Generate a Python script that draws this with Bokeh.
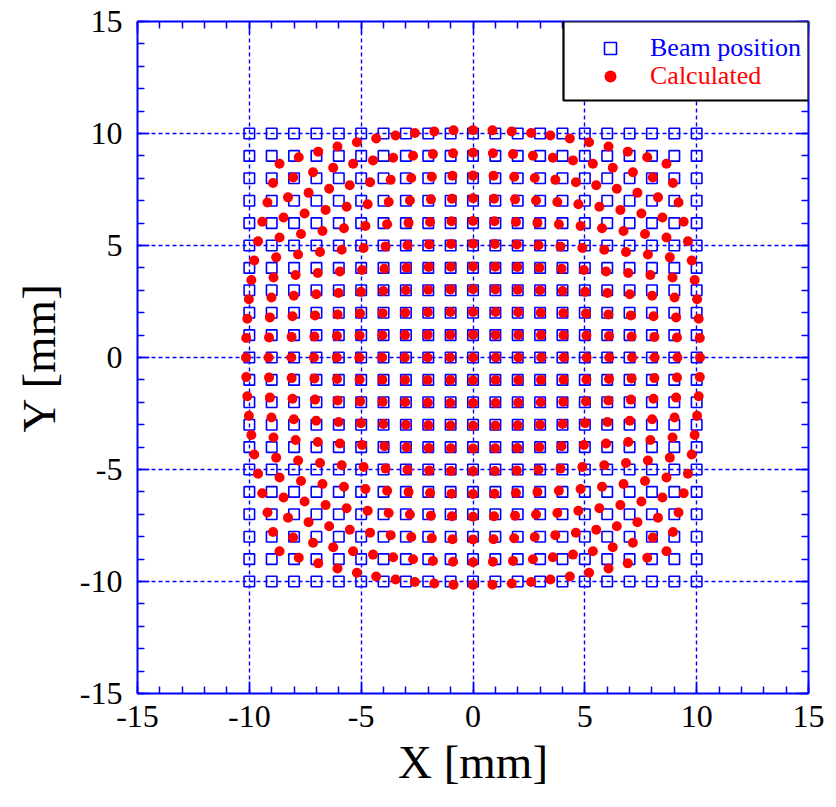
from bokeh.plotting import figure
from bokeh.models import (Range1d, SingleIntervalTicker, LinearAxis, Legend,
                          LegendItem, BoxAnnotation, CustomJSTickFormatter)
from bokeh.embed import file_html
from bokeh.resources import INLINE

# ---------------- data ----------------
# nominal beam positions (grid, mm)
BEAM_POS = [-10, -9, -8, -7, -6, -5, -4, -3, -2, -1, 0,
            1, 2, 3, 4, 5, 6, 7, 8, 9, 10]

# calculated X [mm]; one row per nominal Y (-10 ... 10), columns = nominal X (-10 ... 10)
CALC_X = [
    [-8.65, -7.79, -6.92, -6.06, -5.19, -4.33, -3.46, -2.60, -1.73, -0.87, 0, 0.87, 1.73, 2.60, 3.46, 4.33, 5.19, 6.06, 6.92, 7.79, 8.65],
    [-8.94, -8.04, -7.15, -6.25, -5.36, -4.47, -3.57, -2.68, -1.79, -0.89, 0, 0.89, 1.79, 2.68, 3.57, 4.47, 5.36, 6.25, 7.15, 8.04, 8.94],
    [-9.19, -8.27, -7.35, -6.43, -5.51, -4.60, -3.68, -2.76, -1.84, -0.92, 0, 0.92, 1.84, 2.76, 3.68, 4.60, 5.51, 6.43, 7.35, 8.27, 9.19],
    [-9.42, -8.47, -7.53, -6.59, -5.65, -4.71, -3.77, -2.82, -1.88, -0.94, 0, 0.94, 1.88, 2.82, 3.77, 4.71, 5.65, 6.59, 7.53, 8.47, 9.42],
    [-9.61, -8.65, -7.69, -6.73, -5.77, -4.81, -3.84, -2.88, -1.92, -0.96, 0, 0.96, 1.92, 2.88, 3.84, 4.81, 5.77, 6.73, 7.69, 8.65, 9.61],
    [-9.78, -8.80, -7.82, -6.84, -5.87, -4.89, -3.91, -2.93, -1.96, -0.98, 0, 0.98, 1.96, 2.93, 3.91, 4.89, 5.87, 6.84, 7.82, 8.80, 9.78],
    [-9.91, -8.92, -7.93, -6.94, -5.95, -4.96, -3.96, -2.97, -1.98, -0.99, 0, 0.99, 1.98, 2.97, 3.96, 4.96, 5.95, 6.94, 7.93, 8.92, 9.91],
    [-10.02, -9.01, -8.01, -7.01, -6.01, -5.01, -4.01, -3.00, -2.00, -1.00, 0, 1.00, 2.00, 3.00, 4.01, 5.01, 6.01, 7.01, 8.01, 9.01, 10.02],
    [-10.09, -9.08, -8.07, -7.06, -6.05, -5.05, -4.04, -3.03, -2.02, -1.01, 0, 1.01, 2.02, 3.03, 4.04, 5.05, 6.05, 7.06, 8.07, 9.08, 10.09],
    [-10.14, -9.12, -8.11, -7.09, -6.08, -5.07, -4.05, -3.04, -2.03, -1.01, 0, 1.01, 2.03, 3.04, 4.05, 5.07, 6.08, 7.09, 8.11, 9.12, 10.14],
    [-10.15, -9.14, -8.12, -7.11, -6.09, -5.08, -4.06, -3.05, -2.03, -1.02, 0, 1.02, 2.03, 3.05, 4.06, 5.08, 6.09, 7.11, 8.12, 9.14, 10.15],
    [-10.14, -9.12, -8.11, -7.09, -6.08, -5.07, -4.05, -3.04, -2.03, -1.01, 0, 1.01, 2.03, 3.04, 4.05, 5.07, 6.08, 7.09, 8.11, 9.12, 10.14],
    [-10.09, -9.08, -8.07, -7.06, -6.05, -5.05, -4.04, -3.03, -2.02, -1.01, 0, 1.01, 2.02, 3.03, 4.04, 5.05, 6.05, 7.06, 8.07, 9.08, 10.09],
    [-10.02, -9.01, -8.01, -7.01, -6.01, -5.01, -4.01, -3.00, -2.00, -1.00, 0, 1.00, 2.00, 3.00, 4.01, 5.01, 6.01, 7.01, 8.01, 9.01, 10.02],
    [-9.91, -8.92, -7.93, -6.94, -5.95, -4.96, -3.96, -2.97, -1.98, -0.99, 0, 0.99, 1.98, 2.97, 3.96, 4.96, 5.95, 6.94, 7.93, 8.92, 9.91],
    [-9.78, -8.80, -7.82, -6.84, -5.87, -4.89, -3.91, -2.93, -1.96, -0.98, 0, 0.98, 1.96, 2.93, 3.91, 4.89, 5.87, 6.84, 7.82, 8.80, 9.78],
    [-9.61, -8.65, -7.69, -6.73, -5.77, -4.81, -3.84, -2.88, -1.92, -0.96, 0, 0.96, 1.92, 2.88, 3.84, 4.81, 5.77, 6.73, 7.69, 8.65, 9.61],
    [-9.42, -8.47, -7.53, -6.59, -5.65, -4.71, -3.77, -2.82, -1.88, -0.94, 0, 0.94, 1.88, 2.82, 3.77, 4.71, 5.65, 6.59, 7.53, 8.47, 9.42],
    [-9.19, -8.27, -7.35, -6.43, -5.51, -4.60, -3.68, -2.76, -1.84, -0.92, 0, 0.92, 1.84, 2.76, 3.68, 4.60, 5.51, 6.43, 7.35, 8.27, 9.19],
    [-8.94, -8.04, -7.15, -6.25, -5.36, -4.47, -3.57, -2.68, -1.79, -0.89, 0, 0.89, 1.79, 2.68, 3.57, 4.47, 5.36, 6.25, 7.15, 8.04, 8.94],
    [-8.65, -7.79, -6.92, -6.06, -5.19, -4.33, -3.46, -2.60, -1.73, -0.87, 0, 0.87, 1.73, 2.60, 3.46, 4.33, 5.19, 6.06, 6.92, 7.79, 8.65],
]

# calculated Y [mm]; same row/column layout as CALC_X
CALC_Y = [
    [-8.65, -8.94, -9.19, -9.42, -9.61, -9.78, -9.91, -10.02, -10.09, -10.14, -10.15, -10.14, -10.09, -10.02, -9.91, -9.78, -9.61, -9.42, -9.19, -8.94, -8.65],
    [-7.79, -8.04, -8.27, -8.47, -8.65, -8.80, -8.92, -9.01, -9.08, -9.12, -9.14, -9.12, -9.08, -9.01, -8.92, -8.80, -8.65, -8.47, -8.27, -8.04, -7.79],
    [-6.92, -7.15, -7.35, -7.53, -7.69, -7.82, -7.93, -8.01, -8.07, -8.11, -8.12, -8.11, -8.07, -8.01, -7.93, -7.82, -7.69, -7.53, -7.35, -7.15, -6.92],
    [-6.06, -6.25, -6.43, -6.59, -6.73, -6.84, -6.94, -7.01, -7.06, -7.09, -7.11, -7.09, -7.06, -7.01, -6.94, -6.84, -6.73, -6.59, -6.43, -6.25, -6.06],
    [-5.19, -5.36, -5.51, -5.65, -5.77, -5.87, -5.95, -6.01, -6.05, -6.08, -6.09, -6.08, -6.05, -6.01, -5.95, -5.87, -5.77, -5.65, -5.51, -5.36, -5.19],
    [-4.33, -4.47, -4.60, -4.71, -4.81, -4.89, -4.96, -5.01, -5.05, -5.07, -5.08, -5.07, -5.05, -5.01, -4.96, -4.89, -4.81, -4.71, -4.60, -4.47, -4.33],
    [-3.46, -3.57, -3.68, -3.77, -3.84, -3.91, -3.96, -4.01, -4.04, -4.05, -4.06, -4.05, -4.04, -4.01, -3.96, -3.91, -3.84, -3.77, -3.68, -3.57, -3.46],
    [-2.60, -2.68, -2.76, -2.82, -2.88, -2.93, -2.97, -3.00, -3.03, -3.04, -3.05, -3.04, -3.03, -3.00, -2.97, -2.93, -2.88, -2.82, -2.76, -2.68, -2.60],
    [-1.73, -1.79, -1.84, -1.88, -1.92, -1.96, -1.98, -2.00, -2.02, -2.03, -2.03, -2.03, -2.02, -2.00, -1.98, -1.96, -1.92, -1.88, -1.84, -1.79, -1.73],
    [-0.87, -0.89, -0.92, -0.94, -0.96, -0.98, -0.99, -1.00, -1.01, -1.01, -1.02, -1.01, -1.01, -1.00, -0.99, -0.98, -0.96, -0.94, -0.92, -0.89, -0.87],
    [0, 0, 0, 0, 0, 0, 0, 0, 0, 0, 0, 0, 0, 0, 0, 0, 0, 0, 0, 0, 0],
    [0.87, 0.89, 0.92, 0.94, 0.96, 0.98, 0.99, 1.00, 1.01, 1.01, 1.02, 1.01, 1.01, 1.00, 0.99, 0.98, 0.96, 0.94, 0.92, 0.89, 0.87],
    [1.73, 1.79, 1.84, 1.88, 1.92, 1.96, 1.98, 2.00, 2.02, 2.03, 2.03, 2.03, 2.02, 2.00, 1.98, 1.96, 1.92, 1.88, 1.84, 1.79, 1.73],
    [2.60, 2.68, 2.76, 2.82, 2.88, 2.93, 2.97, 3.00, 3.03, 3.04, 3.05, 3.04, 3.03, 3.00, 2.97, 2.93, 2.88, 2.82, 2.76, 2.68, 2.60],
    [3.46, 3.57, 3.68, 3.77, 3.84, 3.91, 3.96, 4.01, 4.04, 4.05, 4.06, 4.05, 4.04, 4.01, 3.96, 3.91, 3.84, 3.77, 3.68, 3.57, 3.46],
    [4.33, 4.47, 4.60, 4.71, 4.81, 4.89, 4.96, 5.01, 5.05, 5.07, 5.08, 5.07, 5.05, 5.01, 4.96, 4.89, 4.81, 4.71, 4.60, 4.47, 4.33],
    [5.19, 5.36, 5.51, 5.65, 5.77, 5.87, 5.95, 6.01, 6.05, 6.08, 6.09, 6.08, 6.05, 6.01, 5.95, 5.87, 5.77, 5.65, 5.51, 5.36, 5.19],
    [6.06, 6.25, 6.43, 6.59, 6.73, 6.84, 6.94, 7.01, 7.06, 7.09, 7.11, 7.09, 7.06, 7.01, 6.94, 6.84, 6.73, 6.59, 6.43, 6.25, 6.06],
    [6.92, 7.15, 7.35, 7.53, 7.69, 7.82, 7.93, 8.01, 8.07, 8.11, 8.12, 8.11, 8.07, 8.01, 7.93, 7.82, 7.69, 7.53, 7.35, 7.15, 6.92],
    [7.79, 8.04, 8.27, 8.47, 8.65, 8.80, 8.92, 9.01, 9.08, 9.12, 9.14, 9.12, 9.08, 9.01, 8.92, 8.80, 8.65, 8.47, 8.27, 8.04, 7.79],
    [8.65, 8.94, 9.19, 9.42, 9.61, 9.78, 9.91, 10.02, 10.09, 10.14, 10.15, 10.14, 10.09, 10.02, 9.91, 9.78, 9.61, 9.42, 9.19, 8.94, 8.65],
]

SERIES_NAMES = ["Beam position", "Calculated"]
X_LABEL = "X [mm]"
Y_LABEL = "Y [mm]"
AXIS_MIN, AXIS_MAX, MAJOR_STEP = -15, 15, 5

# build flat point lists
beam_x = [bx for by in BEAM_POS for bx in BEAM_POS]
beam_y = [by for by in BEAM_POS for bx in BEAM_POS]
calc_x = [v for row in CALC_X for v in row]
calc_y = [v for row in CALC_Y for v in row]

BLUE = "#0000ff"
RED = "#ff0000"
FONT = "Liberation Serif"

p = figure(width=830, height=805,
           x_range=Range1d(AXIS_MIN, AXIS_MAX), y_range=Range1d(AXIS_MIN, AXIS_MAX),
           output_backend="svg", toolbar_location=None,
           min_border_left=137, min_border_right=22,
           min_border_top=21, min_border_bottom=112)
p.outline_line_color = None
p.background_fill_color = "white"
p.border_fill_color = "white"


def make_ticker():
    return SingleIntervalTicker(interval=MAJOR_STEP, num_minor_ticks=5)


def style_axis(ax, labels=True):
    ax.ticker = make_ticker()
    ax.axis_line_color = BLUE
    ax.axis_line_width = 2
    ax.major_tick_line_color = BLUE
    ax.major_tick_line_width = 1.5
    ax.major_tick_in = 12
    ax.major_tick_out = 0
    ax.minor_tick_line_color = BLUE
    ax.minor_tick_line_width = 1.5
    ax.minor_tick_in = 7
    ax.minor_tick_out = 0
    if labels:
        ax.formatter = CustomJSTickFormatter(code="return tick.toFixed(0)")
        ax.major_label_text_font = FONT
        ax.major_label_text_font_size = "32px"
        ax.major_label_text_color = "black"
        ax.axis_label_text_font = FONT
        ax.axis_label_text_font_size = "47px"
        ax.axis_label_text_font_style = "normal"
        ax.axis_label_text_color = "black"
    else:
        ax.major_label_text_font_size = "0px"
        ax.major_label_text_color = None
        ax.major_label_standoff = 0


style_axis(p.xaxis[0])
style_axis(p.yaxis[0])
p.xaxis[0].axis_label = X_LABEL
p.yaxis[0].axis_label = Y_LABEL
p.xaxis[0].major_label_standoff = 12
p.yaxis[0].major_label_standoff = 15
p.xaxis[0].axis_label_standoff = 6
p.yaxis[0].axis_label_standoff = 12

top_ax = LinearAxis()
right_ax = LinearAxis()
style_axis(top_ax, labels=False)
style_axis(right_ax, labels=False)
p.add_layout(top_ax, "above")
p.add_layout(right_ax, "right")

for g in (p.xgrid[0], p.ygrid[0]):
    g.ticker = make_ticker()
    g.grid_line_color = BLUE
    g.grid_line_dash = "4 3"
    g.grid_line_width = 1.4

sq = p.scatter(beam_x, beam_y, marker="square", size=10.5,
               fill_color=None, line_color=BLUE, line_width=1.6)
ci = p.scatter(calc_x, calc_y, marker="circle", size=10,
               fill_color=RED, line_color=None)

# legend frame
box = BoxAnnotation(left=426, right=671, bottom=593, top=672,
                    left_units="screen", right_units="screen",
                    bottom_units="screen", top_units="screen",
                    fill_color="white", fill_alpha=1.0,
                    line_color="black", line_alpha=1.0, line_width=2.2)
p.add_layout(box)


def make_legend(label, renderer, color, loc):
    leg = Legend(items=[LegendItem(label=label, renderers=[renderer])],
                 location=loc, padding=0, margin=0,
                 border_line_color=None, background_fill_alpha=0,
                 glyph_width=30, glyph_height=30, label_standoff=25,
                 label_height=30,
                 label_text_font=FONT, label_text_font_size="26px",
                 label_text_color=color)
    return leg


p.add_layout(make_legend(SERIES_NAMES[0], sq, BLUE, (458, 630)))
p.add_layout(make_legend(SERIES_NAMES[1], ci, RED, (458, 602)))

open("out.html", "w").write(file_html(p, INLINE))
